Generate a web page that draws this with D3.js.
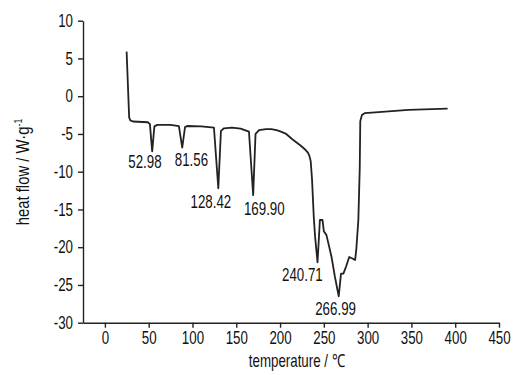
<!DOCTYPE html>
<html>
<head>
<meta charset="utf-8">
<script src="https://cdnjs.cloudflare.com/ajax/libs/d3/7.8.5/d3.min.js"></script>
<style>
  body { margin: 0; background: #fff; }
  svg text { font-family: "Liberation Sans", Arial, sans-serif; fill: #111; }
</style>
</head>
<body>
<script>
// DSC curve
var temperature = [24.8, 27.7, 29, 32, 49, 51.4, 54, 56.5, 60, 75, 84.5, 88.3, 91.5, 94, 110, 124.5, 129.5, 132.5, 136, 145, 155, 164.5, 169.3, 172, 176, 184, 190, 196, 201, 207, 214, 218.5, 223, 226, 229, 232, 233.5, 235, 236.5, 238.5, 240, 242.8, 245.5, 248.5, 250, 253, 258.8, 262.6, 267, 269.6, 272.3, 275.3, 279, 282.7, 285.7, 287, 289.4, 291, 291.6, 293.5, 296.6, 312.5, 346.6, 391.3];
var heatFlow = [5.9, -2.8, -3.2, -3.35, -3.45, -3.7, -7.3, -4.0, -3.8, -3.8, -3.95, -6.8, -4.1, -3.95, -4.0, -4.15, -12.2, -4.6, -4.25, -4.15, -4.3, -4.7, -13.1, -5.0, -4.5, -4.35, -4.35, -4.5, -4.7, -5.0, -5.7, -6.1, -6.5, -6.8, -7.1, -7.5, -7.9, -8.6, -11, -16, -18.6, -22.0, -16.4, -16.4, -17.9, -18.4, -21.3, -23.9, -26.5, -23.5, -23.5, -22.6, -21.3, -21.5, -21.7, -20.4, -16.4, -9.5, -3.3, -2.5, -2.25, -2.1, -1.8, -1.65];

var peakLabels = ["52.98", "81.56", "128.42", "169.90", "240.71", "266.99"];
var peakLabelX = [45.7, 98.8, 121, 182, 225.5, 263.4];
var peakLabelY = [-9.5, -9.2, -14.8, -15.7, -24.5, -29.0];

var xTicks = [0, 50, 100, 150, 200, 250, 300, 350, 400, 450];
var yTicks = [10, 5, 0, -5, -10, -15, -20, -25, -30];

var width = 513, height = 375;
var fs = 18, squash = 0.74;

var svg = d3.select("body").append("svg")
  .attr("width", width)
  .attr("height", height);

var x = d3.scaleLinear().domain([-25, 450]).range([83, 499]);
var y = d3.scaleLinear().domain([-30, 10]).range([322.7, 20.7]);

// the picture's text is a narrow face: squeeze each text horizontally around its anchor
function squeeze(sel) {
  sel.each(function() {
    var t = d3.select(this);
    var tx = +t.attr("x") || 0, ty = +t.attr("y") || 0;
    t.attr("x", 0).attr("y", 0)
     .attr("transform", "translate(" + tx + "," + ty + ") scale(" + squash + ",1)");
  });
}

var xAxis = d3.axisBottom(x).tickValues(xTicks).tickSize(5).tickSizeOuter(0).tickPadding(4)
  .tickFormat(function(d) { return String(d); });
var yAxis = d3.axisLeft(y).tickValues(yTicks).tickSize(5).tickSizeOuter(0).tickPadding(5)
  .tickFormat(function(d) { return String(d); });

var gx = svg.append("g")
  .attr("transform", "translate(0," + y(-30) + ")")
  .call(xAxis);
var gy = svg.append("g")
  .attr("transform", "translate(" + x(-25) + ",0)")
  .call(yAxis);

[gx, gy].forEach(function(g) {
  g.selectAll("path, line").attr("stroke", "#222").attr("stroke-width", 1.4);
  g.selectAll("text").style("font-size", fs + "px").attr("fill", "#111").call(squeeze);
});

// curve
var line = d3.line()
  .x(function(d, i) { return x(temperature[i]); })
  .y(function(d, i) { return y(heatFlow[i]); });

svg.append("path")
  .datum(temperature)
  .attr("d", line)
  .attr("fill", "none")
  .attr("stroke", "#222")
  .attr("stroke-width", 1.8)
  .attr("stroke-linejoin", "round");

// peak labels
svg.selectAll(".peak")
  .data(peakLabels)
  .enter().append("text")
  .attr("class", "peak")
  .attr("x", function(d, i) { return x(peakLabelX[i]); })
  .attr("y", function(d, i) { return y(peakLabelY[i]); })
  .attr("text-anchor", "middle")
  .style("font-size", fs + "px")
  .text(function(d) { return d; })
  .call(squeeze);

// axis titles
svg.append("text")
  .attr("x", 297)
  .attr("y", 367)
  .attr("text-anchor", "middle")
  .style("font-size", fs + "px")
  .text("temperature / \u2103")
  .call(squeeze);

var yt = svg.append("text")
  .attr("transform", "translate(29,172) rotate(-90) scale(0.78,1)")
  .attr("text-anchor", "middle")
  .style("font-size", "19px");
yt.append("tspan").text("heat flow / W\u00b7g");
yt.append("tspan").attr("dy", -7).style("font-size", "11px").text("-1");
</script>
</body>
</html>
